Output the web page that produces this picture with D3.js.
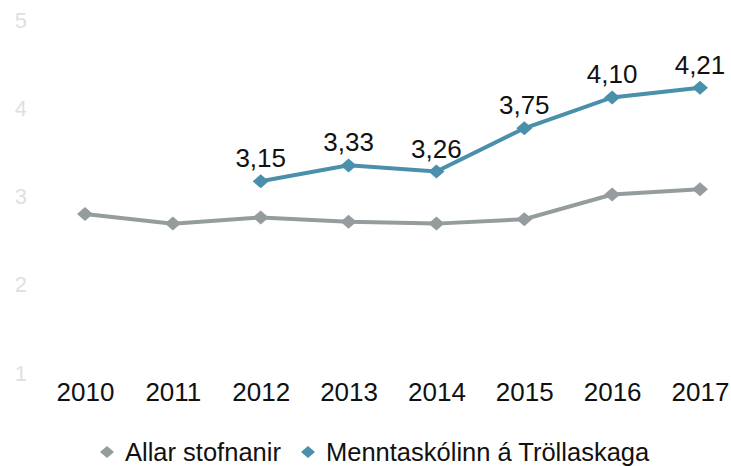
<!DOCTYPE html>
<html>
<head>
<meta charset="utf-8">
<script src="https://cdn.jsdelivr.net/npm/d3@7"></script>
<style>
  body { margin: 0; background: #fff; }
  text { font-family: "Liberation Sans", Arial, sans-serif; }
</style>
</head>
<body>
<div id="chart"></div>
<script>
// Chart data
var years = ["2010", "2011", "2012", "2013", "2014", "2015", "2016", "2017"];
var allarValues = [2.78, 2.67, 2.74, 2.69, 2.67, 2.72, 3.00, 3.06];
var mtrYears = ["2012", "2013", "2014", "2015", "2016", "2017"];
var mtrValues = [3.15, 3.33, 3.26, 3.75, 4.10, 4.21];
var yTicks = [1, 2, 3, 4, 5];
var seriesNames = ["Allar stofnanir", "Menntaskólinn á Tröllaskaga"];

var grayColor = "#959c9d";
var blueColor = "#4a90ab";

var svgWidth = 731;
var svgHeight = 466;

var svg = d3.select("#chart")
  .append("svg")
  .attr("width", svgWidth)
  .attr("height", svgHeight);

// Scales
var xScale = d3.scalePoint()
  .domain(years)
  .range([85, 700]);

var yScale = d3.scaleLinear()
  .domain([1, 5])
  .range([371, 18]);

// y tick labels (very light)
var leftAxis = d3.axisLeft(yScale)
  .tickValues(yTicks)
  .tickSize(0)
  .tickPadding(0)
  .tickFormat(d3.format("d"));

var yAxisG = svg.append("g")
  .attr("transform", "translate(27, 2)")
  .call(leftAxis);
yAxisG.select(".domain").remove();
yAxisG.selectAll("text")
  .attr("font-size", 22)
  .attr("fill", "#e0e0e0")
  .attr("font-family", "Liberation Sans, Arial, sans-serif");

// x axis labels
var bottomAxis = d3.axisBottom(xScale)
  .tickSize(0)
  .tickPadding(0);

var xAxisG = svg.append("g")
  .attr("transform", "translate(0, 382)")
  .call(bottomAxis);
xAxisG.select(".domain").remove();
xAxisG.selectAll("text")
  .attr("font-size", 26)
  .attr("fill", "#111")
  .attr("dy", "0.74em")
  .attr("font-family", "Liberation Sans, Arial, sans-serif");

var diamond = "M0,-7L8,0L0,7L-8,0Z";

var line = d3.line()
  .x(d => xScale(d.year))
  .y(d => yScale(d.value));

var allarData = years.map((y, i) => ({ year: y, value: allarValues[i] }));
var mtrData = mtrYears.map((y, i) => ({ year: y, value: mtrValues[i] }));

function drawSeries(data, color) {
  svg.append("path")
    .datum(data)
    .attr("fill", "none")
    .attr("stroke", color)
    .attr("stroke-width", 4)
    .attr("d", line);

  svg.append("g")
    .selectAll("path")
    .data(data)
    .enter()
    .append("path")
    .attr("d", diamond)
    .attr("fill", color)
    .attr("transform", d => `translate(${xScale(d.year)}, ${yScale(d.value)})`);
}

drawSeries(allarData, grayColor);
drawSeries(mtrData, blueColor);

// Data labels for Menntaskólinn
svg.append("g")
  .selectAll("text")
  .data(mtrData)
  .enter()
  .append("text")
  .attr("x", d => xScale(d.year))
  .attr("y", d => yScale(d.value) - 14)
  .attr("text-anchor", "middle")
  .attr("font-size", 26)
  .attr("fill", "#111")
  .text(d => d.value.toFixed(2).replace(".", ","));

// Legend
var legendItems = [
  { name: seriesNames[0], color: grayColor, x: 107 },
  { name: seriesNames[1], color: blueColor, x: 308 }
];

var legend = svg.append("g")
  .attr("transform", "translate(0, 452)");

legendItems.forEach(function(item) {
  legend.append("path")
    .attr("d", "M0,-6L7,0L0,6L-7,0Z")
    .attr("fill", item.color)
    .attr("transform", `translate(${item.x}, 0)`);
  legend.append("text")
    .attr("x", item.x + 18)
    .attr("y", 0)
    .attr("dy", "0.35em")
    .attr("font-size", 25.5)
    .attr("fill", "#111")
    .text(item.name);
});
</script>
</body>
</html>
